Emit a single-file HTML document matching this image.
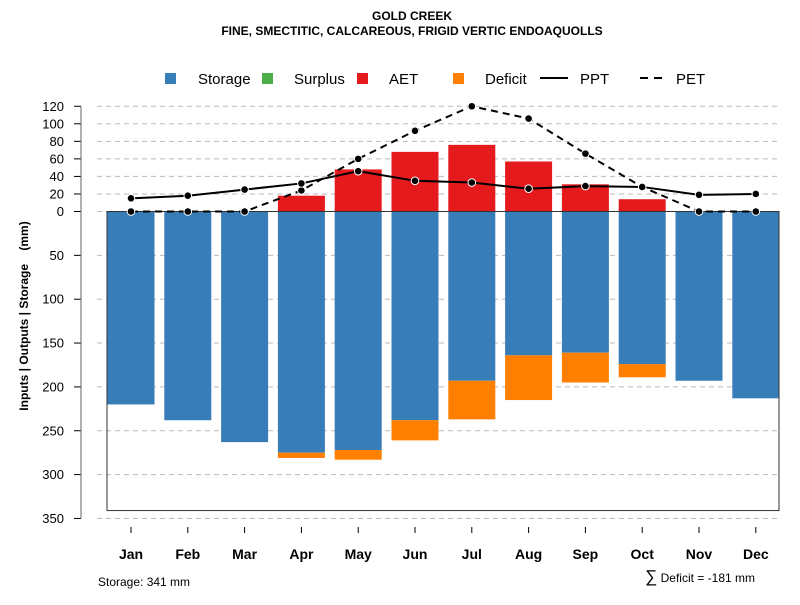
<!DOCTYPE html>
<html><head><meta charset="utf-8"><style>
body{margin:0;background:#fff;font-family:"Liberation Sans",sans-serif}
</style></head><body>
<svg id="c" width="800" height="600" xmlns="http://www.w3.org/2000/svg" font-family="Liberation Sans, sans-serif">
<text x="412" y="20" text-anchor="middle" font-size="12" font-weight="bold">GOLD CREEK</text>
<text x="412" y="35" text-anchor="middle" font-size="12" font-weight="bold">FINE, SMECTITIC, CALCAREOUS, FRIGID VERTIC ENDOAQUOLLS</text>
<g font-size="15">
<rect x="165" y="73" width="11" height="11" fill="#377eb8"/><text x="198" y="84">Storage</text>
<rect x="262" y="73" width="11" height="11" fill="#4daf4a"/><text x="294" y="84">Surplus</text>
<rect x="357" y="73" width="11" height="11" fill="#e41a1c"/><text x="389" y="84">AET</text>
<rect x="453" y="73" width="11" height="11" fill="#ff7f00"/><text x="485" y="84">Deficit</text>
<line x1="540" y1="78" x2="568" y2="78" stroke="#000" stroke-width="2"/><text x="580" y="84">PPT</text>
<line x1="640" y1="78" x2="668" y2="78" stroke="#000" stroke-width="2" stroke-dasharray="8,6"/><text x="676" y="84">PET</text>
</g>
<text transform="translate(28,316) rotate(-90)" text-anchor="middle" font-size="12" font-weight="bold">Inputs | Outputs | Storage&#160;&#160;&#160;&#160;(mm)</text>
<text x="98" y="586" font-size="12">Storage: 341 mm</text>
<text x="755" y="582" text-anchor="end" font-size="12"><tspan font-size="17">∑</tspan> Deficit = -181 mm</text>
<g id="g"></g>
</svg>
<script>
const months=["Jan","Feb","Mar","Apr","May","Jun","Jul","Aug","Sep","Oct","Nov","Dec"];
const storage=[220,238,263,275,272,238,193,164,161,174,193,213];
const deficit=[0,0,0,6,11,23,44,51,34,15,0,0];
const aet=[0,0,0,18,48,68,76,57,31,14,0,0];
const ppt=[15,18,25,32,46,35,33,26,29,28,19,20];
const pet=[0,0,0,24,60,92,120,106,66,28,0,0];
const yTicks=[120,100,80,60,40,20,0,-50,-100,-150,-200,-250,-300,-350];
const soilDepth=341;
const NS="http://www.w3.org/2000/svg";
const g=document.getElementById('g');
function y(v){return 211.5-v*0.877;}
function x(i){return 131+i*56.8;}
function mk(t,a,p){const e=document.createElementNS(NS,t);for(const k in a)e.setAttribute(k,a[k]);(p||g).appendChild(e);return e;}
yTicks.forEach(v=>{
 const l=mk('line',{x1:97,x2:781,y1:y(v),y2:y(v),stroke:'#bbb','stroke-dasharray':'5,4'});
 
 
 const t=mk('line',{x1:74,x2:81,y1:y(v),y2:y(v),stroke:'#000'});
 
 
 const tx=mk('text',{x:64,y:y(v)+4.5,'text-anchor':'end','font-size':13});
 tx.textContent=Math.abs(v);
 
 
});
const ax=mk('line',{x1:81,x2:81,y1:y(120),y2:y(-350),stroke:'#666'});


const bw=47;
months.forEach((m,i)=>{
 const cx=x(i);
 const s=mk('rect',{x:cx-bw/2,y:y(0),width:bw,height:storage[i]*0.877,fill:'#377eb8'});
 
 
 if(deficit[i]>0){const d=mk('rect',{x:cx-bw/2,y:y(-storage[i]),width:bw,height:deficit[i]*0.877,fill:'#ff7f00'});
 
 }
 if(aet[i]>0){const a=mk('rect',{x:cx-bw/2,y:y(aet[i]),width:bw,height:aet[i]*0.877,fill:'#e41a1c'});
 
 }
 const tk=mk('line',{x1:cx,x2:cx,y1:527,y2:533,stroke:'#000'});
 
 
 const t=mk('text',{x:cx,y:559,'text-anchor':'middle','font-size':14,'font-weight':'bold'});
 t.textContent=m;
 
 
});
const box=mk('rect',{x:107,y:y(0),width:672,height:soilDepth*0.877,fill:'none',stroke:'#333'});


function line(arr,dash,name){
 const p=mk('polyline',{points:arr.map((v,i)=>x(i)+','+y(v)).join(' '),fill:'none',stroke:'#000','stroke-width':2,'stroke-dasharray':dash});
 
 
 arr.forEach((v,i)=>{const c=mk('circle',{cx:x(i),cy:y(v),r:3.8,fill:'#000',stroke:'#fff','stroke-width':1});
 
 });
}
line(pet,'7,5','pet');
line(ppt,'none','ppt');
</script>
</body></html>
